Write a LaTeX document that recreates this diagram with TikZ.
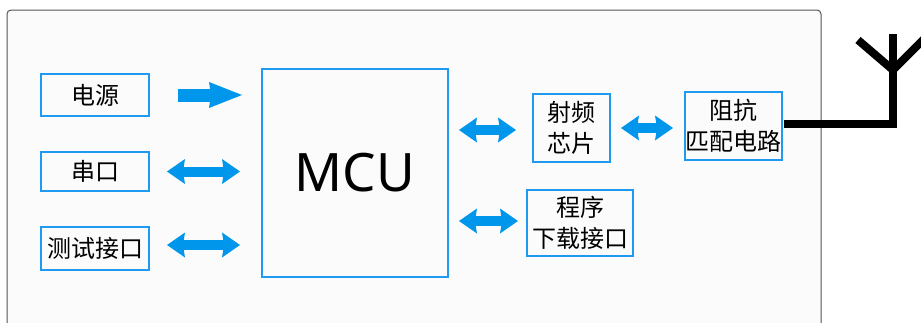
\documentclass[tikz,border=0pt]{standalone}
\usepackage{fontspec}
\setmainfont{Noto Sans CJK SC}
\newfontfamily\latfont{Noto Sans}
\usetikzlibrary{arrows.meta}
\definecolor{boxblue}{RGB}{30,155,240}
\definecolor{arrblue}{RGB}{0,150,235}
\definecolor{framegray}{RGB}{85,85,85}
\definecolor{panel}{RGB}{251,251,251}
\begin{document}
\begin{tikzpicture}[x=1pt,y=-1pt,
  blk/.style={draw=boxblue, line width=2pt, inner sep=0pt, align=center,
    font=\fontsize{24}{31}\selectfont},
  flowone/.style={draw=arrblue, line width=13pt,
    -{Stealth[length=33pt,width=26pt,inset=2pt,line width=0pt]}},
  flowtwo/.style={draw=arrblue, line width=10pt,
    {Stealth[length=18pt,width=25pt,inset=2pt,line width=0pt]}-{Stealth[length=18pt,width=25pt,inset=2pt,line width=0pt]}},
  antline/.style={draw=black, line width=8pt, line cap=butt, line join=miter}
]
\useasboundingbox (0,0) rectangle (921,322);
\fill[white] (0,0) rectangle (921,322);
\draw[framegray, line width=1pt, fill=panel, rounded corners=4pt]
  (7,340) -- (7,10) -- (821,10) -- (821,340);

% blocks
\node[blk, minimum width=108pt, minimum height=42pt] (dy) at (95,95) {电源};
\node[blk, minimum width=108pt, minimum height=39pt] (ck) at (95,171.5) {串口};
\node[blk, minimum width=108pt, minimum height=43pt] (cs) at (95,248.5) {测试接口};
\node[blk, minimum width=186pt, minimum height=208pt,
  font=\latfont\fontsize{53}{60}\selectfont] (mcu) at (355,173) {MCU};
\node[blk, minimum width=77pt, minimum height=68pt] (rf) at (571.5,128) {射频\\芯片};
\node[blk, minimum width=97pt, minimum height=68pt] (zk) at (733.5,126) {阻抗\\匹配电路};
\node[blk, minimum width=106pt, minimum height=66pt] (cx) at (580,223) {程序\\下载接口};

% arrows
\coordinate (csout) at ([yshift=3.5pt]cs.east);
\coordinate (rfin) at ([yshift=-2pt]rf.west);
\coordinate (cxin) at ([yshift=2pt]cx.west);
\draw[flowone, shorten <=28pt, shorten >=19pt] (dy.east) -- (dy.east -| mcu.west);
\draw[flowtwo, shorten <=17pt, shorten >=21pt] (ck.east) -- (ck.east -| mcu.west);
\draw[flowtwo, shorten <=17pt, shorten >=21pt] (csout) -- (csout -| mcu.west);
\draw[flowtwo, shorten <=10pt, shorten >=16pt] (rfin -| mcu.east) -- (rfin);
\draw[flowtwo, shorten <=10pt, shorten >=11pt] (rf.east) -- (rf.east -| zk.west);
\draw[flowtwo, shorten <=10pt, shorten >=8pt] (cxin -| mcu.east) -- (cxin);

% antenna
\coordinate (feed) at ([xshift=1pt,yshift=2.5pt]zk.east);
\coordinate (anttop) at (893,34);
\coordinate (antfork) at (893,70);
\coordinate (armleft) at (858,40);
\coordinate (armright) at (930,33);
\draw[antline] (feed) -| (anttop);
\draw[antline] (armleft) -- (antfork) -- (armright);
\end{tikzpicture}
\end{document}
